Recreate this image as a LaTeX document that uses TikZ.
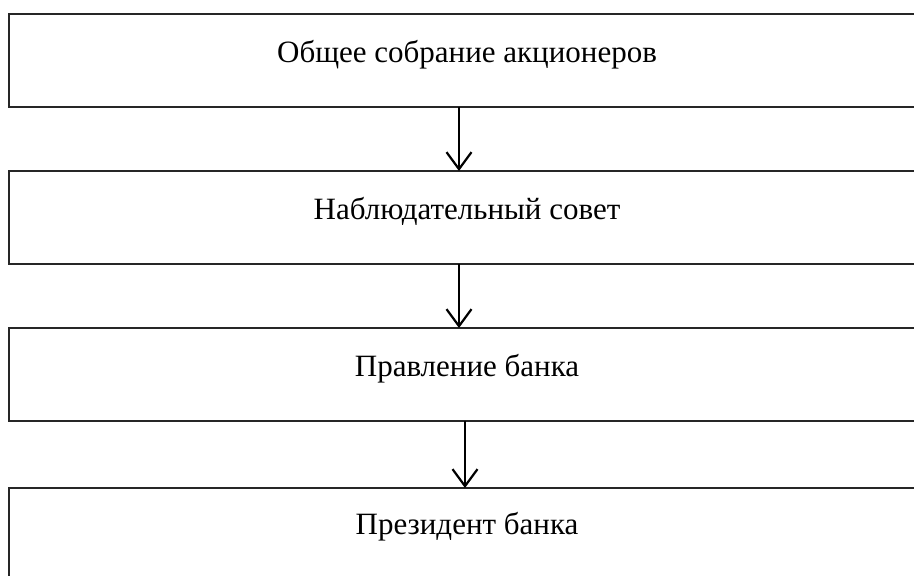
\documentclass[tikz,border=0pt]{standalone}
\usepackage{fontspec}
\setmainfont{Liberation Serif}
\usetikzlibrary{arrows.meta}
\begin{document}
\begin{tikzpicture}[x=1pt,y=1pt,
  orgbox/.style={draw=black!85, line width=1.1pt, rectangle, anchor=north west,
    minimum width=920pt, minimum height=93pt, inner sep=0pt, outer sep=0pt},
  boxtext/.style={anchor=base, font=\fontsize{31}{36}\selectfont, inner sep=0pt},
  flow/.style={line width=2.2pt, -{Straight Barb[length=17pt, width=25pt, line width=2.2pt]}}]
  \useasboundingbox (0,0) rectangle (914,576);
  \clip (0,0) rectangle (914,576);
  % four stacked boxes
  \node[orgbox] (b1) at (9,562) {};
  \node[orgbox] (b2) at (9,405) {};
  \node[orgbox] (b3) at (9,248) {};
  \node[orgbox] (b4) at (9,88) {};
  % captions
  \node[boxtext] (t1) at (467,513) {Общее собрание акционеров};
  \node[boxtext] (t2) at (467,356) {Наблюдательный совет};
  \node[boxtext] (t3) at (467,199) {Правление банка};
  \node[boxtext] (t4) at (467,41) {Президент банка};
  % connectors
  \draw[flow] ([xshift=-10pt]b1.south) -- ([xshift=-10pt]b2.north);
  \draw[flow] ([xshift=-10pt]b2.south) -- ([xshift=-10pt]b3.north);
  \draw[flow] ([xshift=-4pt]b3.south) -- ([xshift=-4pt]b4.north);
\end{tikzpicture}
\end{document}
